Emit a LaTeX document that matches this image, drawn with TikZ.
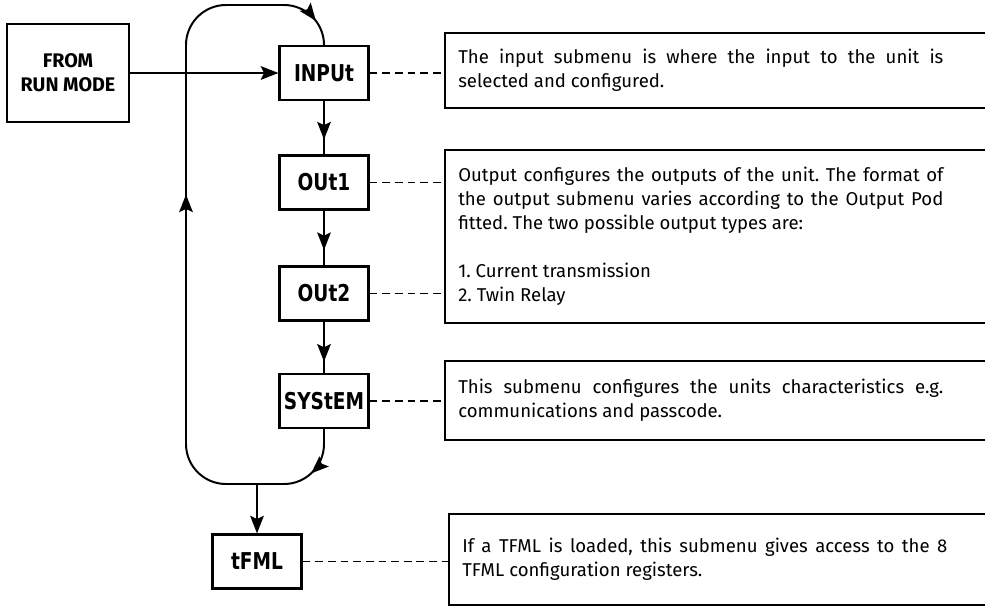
\documentclass[tikz,border=0pt]{standalone}
\usepackage{fontspec}
\setmainfont{Fira Sans}
\newfontfamily\segfont{DejaVu Sans}[FakeStretch=0.8]
\usetikzlibrary{
    arrows.meta,
    decorations.markings,
    positioning
}
\frenchspacing

\tikzset{
    >={Stealth[length=4.4mm, width=3.4mm, inset=0.8mm]},
    line/.style={line width=1.4pt},
    menu/.style={draw, line width=1.5pt, minimum width=2.225cm, minimum height=1.35cm,
        inner sep=0pt, font=\segfont\bfseries\fontsize{16.5}{16.5}\selectfont},
    desc/.style={anchor=west, text width=12.125cm, inner xsep=0.325cm, inner ysep=0pt,
        align=justify, font=\fontsize{13.2}{17.07}\selectfont},
    descframe/.style={line width=1.4pt},
    link/.style={line width=1.3pt, dash pattern=on 5.5pt off 3.5pt},
    midarrow/.style={postaction={decorate},
        decoration={markings, mark=at position #1 with {\arrow{>}}}}
}

\begin{document}
\begin{tikzpicture}[x=0.025cm, y=-0.025cm]
    \useasboundingbox (0, 0) rectangle (985, 607);

    % menu column
    \node[draw, line width=1.5pt, minimum width=3.05cm, minimum height=2.45cm, align=center,
        font=\bfseries\fontsize{14}{17.07}\selectfont] (run) at (68, 73) {FROM\\RUN MODE};
    \node[menu] (inp) at (324, 73) {INPUt};
    \node[menu] (out1) at (324, 182.5) {OUt1};
    \node[menu] (out2) at (324, 293.5) {OUt2};
    \node[menu] (sys) at (324, 401) {SYStEM};
    \node[menu] (tfml) at (257, 561.5) {tFML};

    \draw[line, ->] (run) -- (inp);
    \draw[line, midarrow=0.72] (inp) -- (out1);
    \draw[line, midarrow=0.72] (out1) -- (out2);
    \draw[line, midarrow=0.78] (out2) -- (sys);

    % loop back to the top
    \draw[line, rounded corners=1cm, postaction={decorate},
        decoration={markings,
            mark=at position 1.2cm with {\arrow{>}},
            mark=at position 11.2cm with {\arrow{>}},
            mark=at position -0.65cm with {\arrow{>}}}]
        (sys.south) -- (324, 484) -- (186, 484) -- (186, 5) -- (324, 5) -- (inp.north);
    \coordinate (join) at (257, 484);
    \draw[line, ->] (join) -- (tfml);

    % descriptions
    \node[desc, minimum height=1.875cm] (d1) at (445, 70.5)
        {The input submenu is where the input to the unit is\linebreak
        selected and configured.};
    \node[desc, minimum height=4.325cm] (d2) at (445, 236.5)
        {Output configures the outputs of the unit. The format of\linebreak
        the output submenu varies according to the Output Pod\linebreak
        fitted. The two possible output types are:\\[17.07pt]
        1. Current transmission\\
        2. Twin Relay};
    \node[desc, minimum height=1.975cm] (d3) at (445, 400.5)
        {This submenu configures the units characteristics e.g.\linebreak
        communications and passcode.};
    \node[desc, minimum height=2.275cm] (d4) at (449, 559.5)
        {If a TFML is loaded, this submenu gives access to the 8\linebreak
        TFML configuration registers.};
    \foreach \d in {d1, d2, d3, d4}
        \draw[descframe] (\d.north west) rectangle ([xshift=1cm]\d.south east);

    \draw[link] (inp.east) -- (inp.east -| d1.west);
    \draw[link] (out1.east) -- (out1.east -| d2.west);
    \draw[link] (out2.east) -- (out2.east -| d2.west);
    \draw[link] (sys.east) -- (sys.east -| d3.west);
    \draw[link] (tfml.east) -- (tfml.east -| d4.west);
\end{tikzpicture}
\end{document}
